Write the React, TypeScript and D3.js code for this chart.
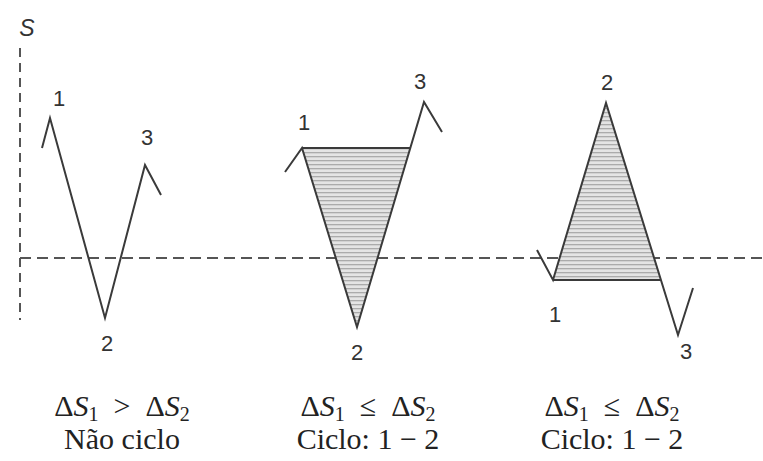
import React from "react";
import * as d3 from "d3";

const W = 763;
const H = 461;

// Panel paths: time t and stress S
const panel1T = [1.1, 1.5, 4.25, 6.25, 7.05];
const panel1S = [5.5, 7.0, -3.0, 4.65, 3.15];
const panel2T = [13.25, 14.1, 16.85, 20.2, 21.1];
const panel2S = [4.3, 5.5, -3.45, 7.8, 6.3];
const panel3T = [25.85, 26.65, 29.3, 32.9, 33.65];
const panel3S = [0.4, -1.1, 7.75, -3.85, -1.5];

const pointLabels = ["1", "2", "3"];

const captionOps = ["\u2002>\u2002", "\u2002≤\u2002", "\u2002≤\u2002"];
const captionsBottom = ["Não ciclo", "Ciclo: 1 − 2", "Ciclo: 1 − 2"];
const captionCenters = [5.1, 17.4, 29.6];

const x = d3.scaleLinear().domain([0, 37]).range([20, 760]);
const y = d3.scaleLinear().domain([0, 10]).range([258, 58]);

type P = [number, number];

function pts(t: number[], s: number[]): P[] {
  return t.map((v, i) => [v, s[i]] as P);
}

function crossAt(a: P, b: P, level: number): P {
  const f = (level - a[1]) / (b[1] - a[1]);
  return [a[0] + f * (b[0] - a[0]), level];
}

const line = d3
  .line<P>()
  .x((d) => x(d[0]))
  .y((d) => y(d[1]));

export default function App() {
  const p1 = pts(panel1T, panel1S);
  const p2 = pts(panel2T, panel2S);
  const p3 = pts(panel3T, panel3S);

  const tri2: P[] = [p2[1], p2[2], crossAt(p2[2], p2[3], p2[1][1])];
  const tri3: P[] = [p3[1], p3[2], crossAt(p3[2], p3[3], p3[1][1])];

  const labels: { p: P; text: string; dx: number; dy: number }[] = [
    { p: p1[1], text: pointLabels[0], dx: 9, dy: -20 },
    { p: p1[2], text: pointLabels[1], dx: 2, dy: 25 },
    { p: p1[3], text: pointLabels[2], dx: 2, dy: -28 },
    { p: p2[1], text: pointLabels[0], dx: 2, dy: -26 },
    { p: p2[2], text: pointLabels[1], dx: 0, dy: 25 },
    { p: p2[3], text: pointLabels[2], dx: -4, dy: -21 },
    { p: p3[2], text: pointLabels[1], dx: 1, dy: -21 },
    { p: p3[1], text: pointLabels[0], dx: 2, dy: 34 },
    { p: p3[3], text: pointLabels[2], dx: 8, dy: 16 },
  ];

  const stroke = "#3a3a3a";
  const serif = "'Liberation Serif', 'DejaVu Serif', serif";

  return (
    <svg
      width={W}
      height={H}
      style={{ position: "absolute", left: 0, top: 0, background: "#fff" }}
      viewBox={`0 0 ${W} ${H}`}
    >
      <defs>
        <pattern id="hatch" width="4" height="4" patternUnits="userSpaceOnUse">
          <rect width="4" height="4" fill="#e4e4e4" />
          <rect width="4" height="1.3" y="0" fill="#ababab" />
        </pattern>
      </defs>
      <rect width={W} height={H} fill="#fff" />

      {/* axes */}
      <line
        x1={x(0)}
        x2={x(0)}
        y1={y(10.5)}
        y2={y(-3.1)}
        stroke="#555"
        strokeWidth={2}
        strokeDasharray="9 6"
      />
      <line
        x1={x(0)}
        x2={W}
        y1={y(0)}
        y2={y(0)}
        stroke="#555"
        strokeWidth={2}
        strokeDasharray="11 6"
      />
      <text
        x={27}
        y={36}
        fontFamily="'Liberation Sans', Arial, sans-serif"
        fontStyle="italic"
        fontSize={23}
        fill="#333"
        textAnchor="middle"
      >
        S
      </text>

      {/* shaded cycles */}
      <path d={line(tri2) + "Z"} fill="url(#hatch)" stroke="none" />
      <path d={line(tri3) + "Z"} fill="url(#hatch)" stroke="none" />
      <line
        x1={x(tri2[0][0])}
        x2={x(tri2[2][0])}
        y1={y(tri2[0][1])}
        y2={y(tri2[2][1])}
        stroke={stroke}
        strokeWidth={2}
      />
      <line
        x1={x(tri3[0][0])}
        x2={x(tri3[2][0])}
        y1={y(tri3[0][1])}
        y2={y(tri3[2][1])}
        stroke={stroke}
        strokeWidth={2}
      />

      {/* paths */}
      {[p1, p2, p3].map((p, i) => (
        <path
          key={i}
          d={line(p) || ""}
          fill="none"
          stroke={stroke}
          strokeWidth={2}
          strokeLinejoin="miter"
        />
      ))}

      {/* point labels */}
      {labels.map((l, i) => (
        <text
          key={i}
          x={x(l.p[0]) + l.dx}
          y={y(l.p[1]) + l.dy}
          fontFamily="'Liberation Sans', Arial, sans-serif"
          fontSize={22}
          fill="#333"
          textAnchor="middle"
          dominantBaseline="central"
        >
          {l.text}
        </text>
      ))}

      {/* captions */}
      {captionOps.map((op, i) => (
        <text
          key={"t" + i}
          x={x(captionCenters[i])}
          y={416}
          fontFamily={serif}
          fontSize={30}
          fill="#222"
          textAnchor="middle"
        >
          <tspan>Δ</tspan>
          <tspan fontStyle="italic">S</tspan>
          <tspan fontSize={20} dy={5}>1</tspan>
          <tspan dy={-5}>{op}</tspan>
          <tspan>Δ</tspan>
          <tspan fontStyle="italic">S</tspan>
          <tspan fontSize={20} dy={5}>2</tspan>
        </text>
      ))}
      {captionsBottom.map((c, i) => (
        <text
          key={"b" + i}
          x={x(captionCenters[i])}
          y={449}
          fontFamily={serif}
          fontSize={30}
          fill="#222"
          textAnchor="middle"
        >
          {c}
        </text>
      ))}
    </svg>
  );
}
